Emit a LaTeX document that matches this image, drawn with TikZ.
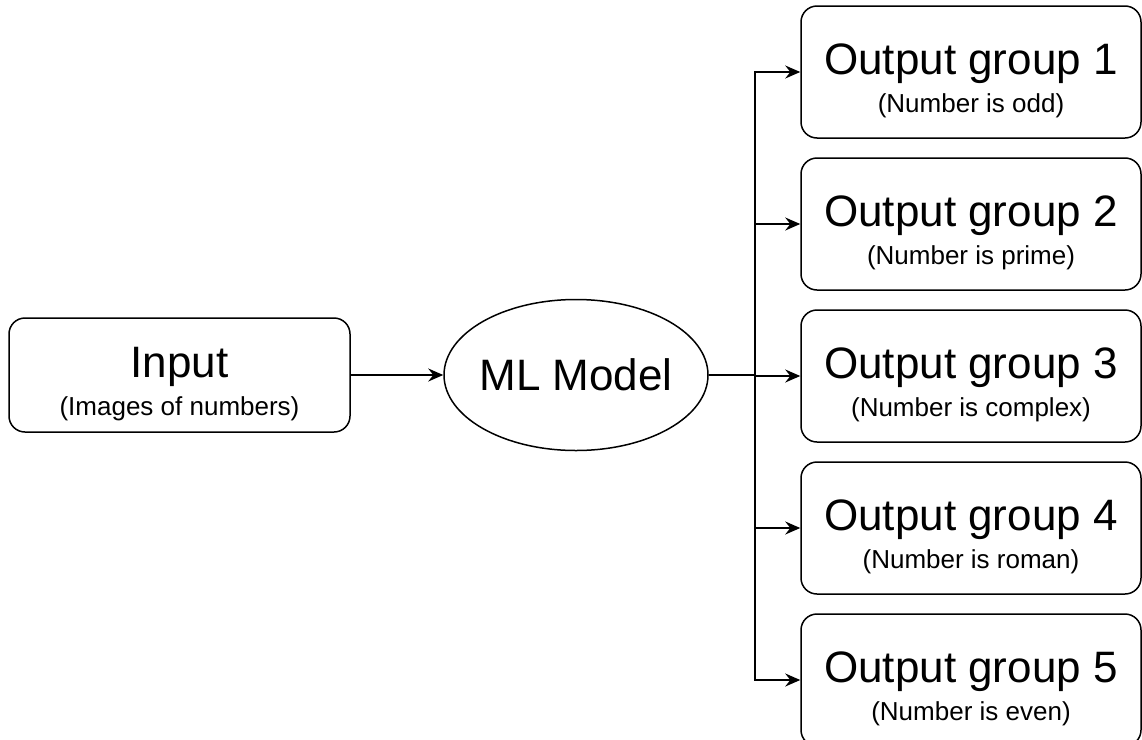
\documentclass[tikz,border=0pt]{standalone}
\usepackage{fontspec}
\setmainfont{Liberation Sans}
\usetikzlibrary{arrows.meta,shapes.geometric}
\begin{document}
\begin{tikzpicture}[x=1pt,y=-1pt,
  box/.style={draw, line width=1.5pt, rounded corners=16pt, minimum width=340pt, minimum height=132pt, inner sep=0pt},
  oval/.style={draw, line width=1.5pt, ellipse, minimum width=264pt, minimum height=151pt, inner sep=0pt},
  big/.style={anchor=base, inner sep=0pt, font=\fontsize{44}{50}\selectfont},
  small/.style={anchor=base, inner sep=0pt, font=\fontsize{26}{30}\selectfont},
  arr/.style={line width=1.6pt, -{Stealth[length=15pt,width=13pt,inset=5pt]}}]
\useasboundingbox (0,0) rectangle (1142,739);
\fill[white] (0,0) rectangle (1142,739);
\node[box, minimum width=341pt, minimum height=114pt] (in) at (179.5,375) {};
\node[big, yshift=-2pt] (inT) at (in.center) {Input};
\node[small, yshift=-40pt] (inS) at (in.center) {(Images of numbers)};
\node[oval] (ml) at (576,375) {};
\node[big, yshift=-15pt] (mlT) at (ml.center) {ML Model};
\node[box] (o1) at (971,72) {};
\node[box] (o2) at (971,224) {};
\node[box] (o3) at (971,376) {};
\node[box] (o4) at (971,528) {};
\node[box] (o5) at (971,680) {};
\node[big, yshift=-2pt] (o1T) at (o1.center) {Output group 1};
\node[small, yshift=-40pt] (o1S) at (o1.center) {(Number is odd)};
\node[big, yshift=-2pt] (o2T) at (o2.center) {Output group 2};
\node[small, yshift=-40pt] (o2S) at (o2.center) {(Number is prime)};
\node[big, yshift=-2pt] (o3T) at (o3.center) {Output group 3};
\node[small, yshift=-40pt] (o3S) at (o3.center) {(Number is complex)};
\node[big, yshift=-2pt] (o4T) at (o4.center) {Output group 4};
\node[small, yshift=-40pt] (o4S) at (o4.center) {(Number is roman)};
\node[big, yshift=-2pt] (o5T) at (o5.center) {Output group 5};
\node[small, yshift=-40pt] (o5S) at (o5.center) {(Number is even)};
\coordinate (fork) at (755,375);
\draw[arr] (in.east) -- (ml.west);
\draw[arr] (ml.east) -- (fork) |- (o1.west);
\draw[arr] (ml.east) -- (fork) |- (o2.west);
\draw[arr] (ml.east) -- (fork) |- (o3.west);
\draw[arr] (ml.east) -- (fork) |- (o4.west);
\draw[arr] (ml.east) -- (fork) |- (o5.west);
\end{tikzpicture}
\end{document}
